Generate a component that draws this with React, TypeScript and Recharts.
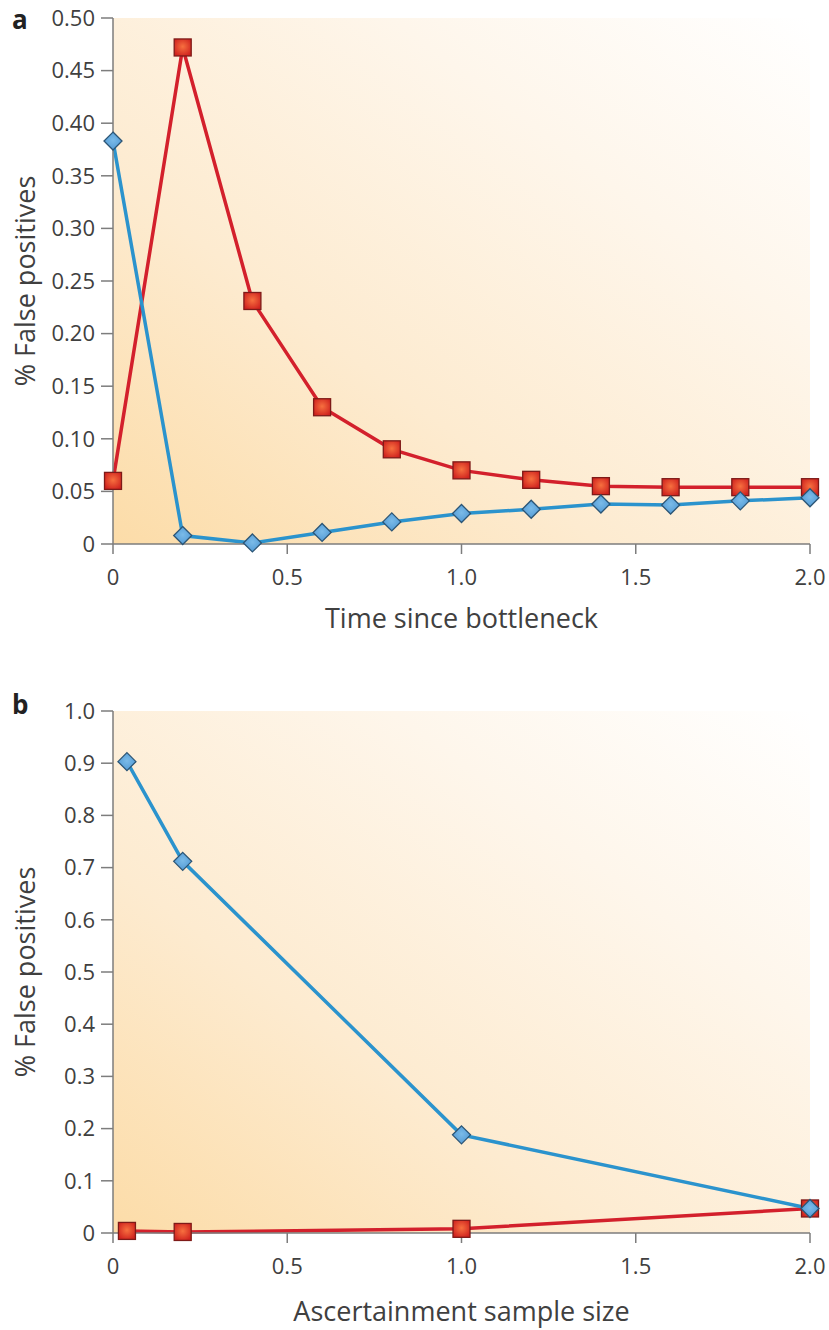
import React from 'react';
import {
  LineChart,
  Line,
  XAxis,
  YAxis,
  ReferenceArea,
} from 'recharts';

// Panel a: time since bottleneck
const timeSinceBottleneck = [0, 0.2, 0.4, 0.6, 0.8, 1.0, 1.2, 1.4, 1.6, 1.8, 2.0];
const redA = [0.06, 0.472, 0.231, 0.13, 0.09, 0.07, 0.061, 0.055, 0.054, 0.054, 0.054];
const blueA = [0.383, 0.008, 0.001, 0.011, 0.021, 0.029, 0.033, 0.038, 0.037, 0.041, 0.044];
const yTicksA = [0, 0.05, 0.1, 0.15, 0.2, 0.25, 0.3, 0.35, 0.4, 0.45, 0.5];

// Panel b: ascertainment sample size
const sampleSize = [0.04, 0.2, 1.0, 2.0];
const redB = [0.004, 0.002, 0.008, 0.047];
const blueB = [0.903, 0.712, 0.188, 0.047];
const yTicksB = [0, 0.1, 0.2, 0.3, 0.4, 0.5, 0.6, 0.7, 0.8, 0.9, 1.0];

const xTicks = [0, 0.5, 1, 1.5, 2];

const FONT = '"Open Sans", "Noto Sans", sans-serif';
const AXIS = '#7d7d7d';
const TEXT = '#404040';
const RED = '#d3202c';
const BLUE = '#2b93cd';

const rowsA = timeSinceBottleneck.map((t, i) => ({ t, red: redA[i], blue: blueA[i] }));
const rowsB = sampleSize.map((t, i) => ({ t, red: redB[i], blue: blueB[i] }));

const fmtX = (v: number) => (v === 0 ? '0' : v.toFixed(1));
const fmtYA = (v: number) => (v === 0 ? '0' : v.toFixed(2));
const fmtYB = (v: number) => (v === 0 ? '0' : v.toFixed(1));

function RedSquare(props: any) {
  const { cx, cy, index } = props;
  if (cx == null || cy == null) return null;
  return (
    <rect
      key={`sq-${index}`}
      x={cx - 8.5}
      y={cy - 8.5}
      width={17}
      height={17}
      fill="url(#redFill)"
      stroke="#7e1a18"
      strokeWidth={1.3}
    />
  );
}

function BlueDiamond(props: any) {
  const { cx, cy, index } = props;
  if (cx == null || cy == null) return null;
  const r = 9;
  return (
    <path
      key={`dm-${index}`}
      d={`M${cx},${cy - r}L${cx + r},${cy}L${cx},${cy + r}L${cx - r},${cy}Z`}
      fill="url(#blueFill)"
      stroke="#2c5575"
      strokeWidth={1.3}
    />
  );
}

const tickStyle = { fontFamily: FONT, fontSize: 22, fill: TEXT };

interface PanelProps {
  rows: { t: number; red: number; blue: number }[];
  height: number;
  bottom: number;
  yMax: number;
  yTicks: number[];
  fmtY: (v: number) => string;
  xLabel: string;
  labelOffset: number;
  gradId: string;
}

function Panel({ rows, height, bottom, yMax, yTicks, fmtY, xLabel, labelOffset, gradId }: PanelProps) {
  return (
    <LineChart
      width={829}
      height={height}
      data={rows}
      margin={{ top: 18, right: 19, bottom, left: 0 }}
    >
      <ReferenceArea
        x1={0}
        x2={2}
        y1={0}
        y2={yMax}
        fill={`url(#${gradId})`}
        fillOpacity={1}
        stroke="none"
        ifOverflow="extendDomain"
      />
      <XAxis
        dataKey="t"
        type="number"
        domain={[0, 2]}
        ticks={xTicks}
        tickFormatter={fmtX}
        height={90}
        tickSize={10}
        tickMargin={15}
        axisLine={{ stroke: AXIS, strokeWidth: 1.5 }}
        tickLine={{ stroke: AXIS, strokeWidth: 1.5 }}
        tick={tickStyle}
        label={{
          value: xLabel,
          position: 'insideBottom',
          offset: labelOffset,
          style: { fontFamily: FONT, fontSize: 27, fill: TEXT },
        }}
      />
      <YAxis
        type="number"
        domain={[0, yMax]}
        ticks={yTicks}
        tickFormatter={fmtY}
        width={113}
        tickSize={12}
        tickMargin={6}
        axisLine={{ stroke: AXIS, strokeWidth: 1.5 }}
        tickLine={{ stroke: AXIS, strokeWidth: 1.5 }}
        tick={tickStyle}
        label={{
          value: '% False positives',
          angle: -90,
          position: 'insideLeft',
          offset: 25,
          style: { fontFamily: FONT, fontSize: 27, fill: TEXT, textAnchor: 'middle' },
        }}
      />
      <Line
        dataKey="red"
        stroke={RED}
        strokeWidth={3.5}
        dot={RedSquare}
        activeDot={false}
        isAnimationActive={false}
      />
      <Line
        dataKey="blue"
        stroke={BLUE}
        strokeWidth={3.5}
        dot={BlueDiamond}
        activeDot={false}
        isAnimationActive={false}
      />
    </LineChart>
  );
}

export default function App() {
  return (
    <div style={{ position: 'absolute', left: 0, top: 0, width: 829, height: 1330, background: '#fff' }}>
      <svg width={0} height={0} style={{ position: 'absolute' }}>
        <defs>
          <linearGradient id="bgA" x1="0" y1="1" x2="1" y2="0">
            <stop offset="0%" stopColor="#fcdca8" />
            <stop offset="35%" stopColor="#fdebd0" />
            <stop offset="70%" stopColor="#fef6eb" />
            <stop offset="100%" stopColor="#ffffff" />
          </linearGradient>
          <linearGradient id="bgB" x1="0" y1="1" x2="1" y2="0">
            <stop offset="0%" stopColor="#fcdca8" />
            <stop offset="35%" stopColor="#fdebd0" />
            <stop offset="70%" stopColor="#fef6eb" />
            <stop offset="100%" stopColor="#ffffff" />
          </linearGradient>
          <radialGradient id="redFill" cx="50%" cy="45%" r="60%">
            <stop offset="0%" stopColor="#f7703f" />
            <stop offset="100%" stopColor="#d0231f" />
          </radialGradient>
          <radialGradient id="blueFill" cx="50%" cy="45%" r="60%">
            <stop offset="0%" stopColor="#7bbbe8" />
            <stop offset="100%" stopColor="#4f98d4" />
          </radialGradient>
        </defs>
      </svg>

      <div style={{ position: 'absolute', left: 0, top: 0 }}>
        <Panel
          rows={rowsA}
          height={660}
          bottom={26}
          yMax={0.5}
          yTicks={yTicksA}
          fmtY={fmtYA}
          xLabel="Time since bottleneck"
          labelOffset={6}
          gradId="bgA"
        />
      </div>
      <div style={{ position: 'absolute', left: 0, top: 693 }}>
        <Panel
          rows={rowsB}
          height={637}
          bottom={7}
          yMax={1}
          yTicks={yTicksB}
          fmtY={fmtYB}
          xLabel="Ascertainment sample size"
          labelOffset={2}
          gradId="bgB"
        />
      </div>

      <svg width={829} height={1330} style={{ position: 'absolute', left: 0, top: 0, pointerEvents: 'none' }}>
        <text x={12} y={29} fontFamily={FONT} fontSize={26} fontWeight="bold" fill="#222">a</text>
        <text x={12} y={714} fontFamily={FONT} fontSize={26} fontWeight="bold" fill="#222">b</text>
      </svg>
    </div>
  );
}
